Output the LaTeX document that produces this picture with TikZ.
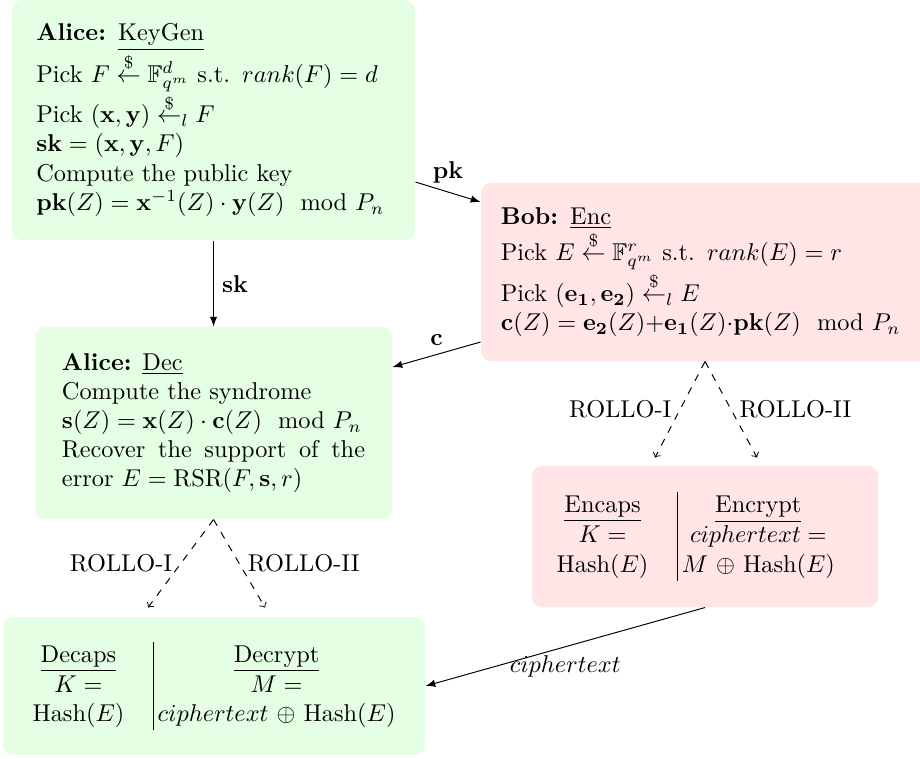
\documentclass[tikz,border=0pt]{standalone}
\usepackage{amsmath,amssymb}
\begin{document}
\begin{tikzpicture}[alicebox/.style={fill=green!10, rounded corners=4pt},
    bobbox/.style={fill=red!10, rounded corners=4pt},
    msg/.style={-latex},
    variant/.style={->, dashed}]
    \useasboundingbox (0,0) rectangle (13.296,10.955);
    \node[alicebox, minimum width=5.824cm, minimum height=3.469cm, text width=5.12cm, align=left] (keygen) at (3.086,9.220)
        {\textbf{Alice:} \underline{KeyGen}\\
        Pick $F \stackrel{\$}{\leftarrow} \mathbb{F}_{q^m}^d$ s.t. $rank(F)=d$\\
        Pick $(\mathbf{x},\mathbf{y}) \stackrel{\$}{\leftarrow}_l F$\\
        $\mathbf{sk}=(\mathbf{x},\mathbf{y},F)$\\
        Compute the public key\\
        $\mathbf{pk}(Z)=\mathbf{x}^{-1}(Z)\cdot\mathbf{y}(Z) \mod P_n$};
    \node[bobbox, minimum width=6.475cm, minimum height=2.573cm, text width=5.9cm, align=left] (bob) at (10.189,7.024)
        {\textbf{Bob:} \underline{Enc}\\
        Pick $E \stackrel{\$}{\leftarrow} \mathbb{F}_{q^m}^r$ s.t. $rank(E)=r$\\
        Pick $(\mathbf{e_1},\mathbf{e_2}) \stackrel{\$}{\leftarrow}_l E$\\
        $\mathbf{c}(Z)=\mathbf{e_2}(Z){+}\mathbf{e_1}(Z){\cdot}\mathbf{pk}(Z) \mod P_n$};
    \node[alicebox, minimum width=5.159cm, minimum height=2.775cm, text width=4.38cm, align=justify] (dec) at (3.086,4.841)
        {\textbf{Alice:} \underline{Dec}\\
        Compute the syndrome\\
        $\mathbf{s}(Z)=\mathbf{x}(Z)\cdot\mathbf{c}(Z) \mod P_n$\\
        Recover the support of the error $E=\mathrm{RSR}(F,\mathbf{s},r)$};
    \node[bobbox, minimum width=5.000cm, minimum height=2.038cm] (encaps) at (10.189,3.201)
        {\begin{tabular}{c@{\hspace{12pt}}|@{\hspace{1.5pt}}c@{\hspace{13.6pt}}}
        \underline{Encaps} & \underline{Encrypt}\\
        $K=$ & $ciphertext=$\\
        Hash$(E)$ & $M$ $\oplus$ Hash$(E)$
        \end{tabular}};
    \node[alicebox, minimum width=6.099cm, minimum height=1.994cm] (decaps) at (3.093,1.041)
        {\begin{tabular}{c@{\hspace{12pt}}|@{\hspace{1.5pt}}c}
        \underline{Decaps} & \underline{Decrypt}\\
        $K=$ & $M=$\\
        Hash$(E)$ & $ciphertext$ $\oplus$ Hash$(E)$
        \end{tabular}};
    \draw [msg] ([yshift=-0.896cm]keygen.east) -- ([yshift=1.012cm]bob.west) node[midway, above] {$\mathbf{pk}$};
    \draw [msg] (keygen.south) -- (dec.north) node[midway, right] {$\mathbf{sk}$};
    \draw [msg] ([yshift=-1.012cm]bob.west) -- ([yshift=0.809cm]dec.east) node[midway, above] {$\mathbf{c}$};
    \draw [variant] (dec.south) -- ([xshift=-0.954cm, yshift=0.13cm]decaps.north) node[midway, left] {ROLLO-I};
    \draw [variant] (dec.south) -- ([xshift=0.737cm, yshift=0.13cm]decaps.north) node[midway, right] {ROLLO-II};
    \draw [variant] (bob.south) -- ([xshift=-0.723cm, yshift=0.116cm]encaps.north) node[midway, left] {ROLLO-I};
    \draw [variant] (bob.south) -- ([xshift=0.752cm, yshift=0.116cm]encaps.north) node[midway, right] {ROLLO-II};
    \draw [msg] (encaps.south) -- (decaps.east) node[midway, below] {$ciphertext$};
\end{tikzpicture}
\end{document}
